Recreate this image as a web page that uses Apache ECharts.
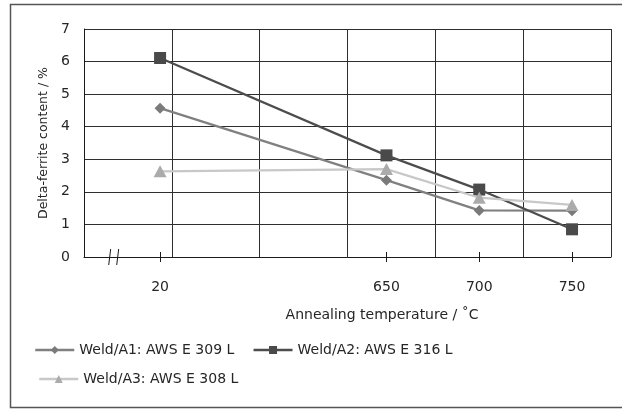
<!DOCTYPE html>
<html><head><meta charset="utf-8">
<script src="https://cdn.jsdelivr.net/npm/echarts@6/dist/echarts.min.js"></script>
<style>html,body{margin:0;padding:0;background:#fff}#c{width:622px;height:409px}</style>
</head><body><div id="c"></div>
<script>
const temperatures = [20, 650, 700, 750];
const weldA1 = [4.57, 2.36, 1.43, 1.42];
const weldA2 = [6.11, 3.12, 2.07, 0.85];
const weldA3 = [2.63, 2.70, 1.82, 1.60];
const seriesNames = ['Weld/A1: AWS E 309 L', 'Weld/A2: AWS E 316 L', 'Weld/A3: AWS E 308 L'];
const yMin = 0, yMax = 7, yStep = 1;
const xAxisTitle = 'Annealing temperature / ˚C';
const yAxisTitle = 'Delta-ferrite content / %';

// Broken temperature axis: values below the break are shifted up next to the upper range
const BREAK_LOW = 600, BREAK_SHIFT = 508, BREAK_MARK = 503;
const X_MIN = 487, X_MAX = 771;
const toAxis = t => t < BREAK_LOW ? t + BREAK_SHIFT : t;
const fromAxis = v => v < BREAK_LOW ? Math.round(v - BREAK_SHIFT) : Math.round(v);

const FONT = '"DejaVu Sans"';
const TXT = '#262626';
const pairs = arr => temperatures.map((t, i) => [toAxis(t), arr[i]]);
const tickVals = temperatures.map(toAxis);

const chart = echarts.init(document.getElementById('c'), null, {renderer: 'canvas'});
const option = {
  animation: false,
  backgroundColor: '#fff',
  textStyle: {fontFamily: FONT},
  grid: {left: 84, right: 11, top: 29, bottom: 152, containLabel: false},
  xAxis: [
    { type: 'value', min: 0, max: 6, interval: 1, position: 'bottom',
      axisLine: {show: false}, axisTick: {show: false}, axisLabel: {show: false},
      splitLine: {show: true, lineStyle: {color: '#2e2e2e', width: 1}} },
    { type: 'value', min: X_MIN, max: X_MAX, position: 'bottom',
      axisLine: {show: true, onZero: false, lineStyle: {color: '#1a1a1a', width: 1}},
      axisTick: {show: true, customValues: tickVals, length: 5, inside: false, lineStyle: {color: '#1a1a1a'}},
      axisLabel: {show: true, customValues: tickVals, formatter: v => String(fromAxis(v)),
        margin: 23, fontSize: 14, color: TXT, fontFamily: FONT},
      splitLine: {show: false} },
    { type: 'value', min: X_MIN, max: X_MAX, position: 'bottom',
      axisLine: {show: false},
      axisTick: {show: true, customValues: tickVals, length: 5, inside: true, lineStyle: {color: '#1a1a1a'}},
      axisLabel: {show: false}, splitLine: {show: false} }
  ],
  yAxis: {
    type: 'value', min: yMin, max: yMax, interval: yStep,
    name: yAxisTitle, nameLocation: 'middle', nameGap: 34,
    nameTextStyle: {fontSize: 12.5, color: TXT, fontFamily: FONT},
    axisLine: {show: true, lineStyle: {color: '#1a1a1a', width: 1}},
    axisTick: {show: false},
    axisLabel: {fontSize: 14, color: TXT, margin: 14, fontFamily: FONT},
    splitLine: {show: true, lineStyle: {color: '#2e2e2e', width: 1}}
  },
  legend: [
    { data: [seriesNames[0], seriesNames[1]], left: 34, top: 343, padding: 0, itemWidth: 39, itemHeight: 10, itemGap: 18,
      lineStyle: {width: 2.5}, textStyle: {fontSize: 14, color: TXT, fontFamily: FONT} },
    { data: [seriesNames[2]], left: 38, top: 372, padding: 0, itemWidth: 39, itemHeight: 10,
      lineStyle: {width: 2.5}, textStyle: {fontSize: 14, color: TXT, fontFamily: FONT} }
  ],
  series: [
    { name: seriesNames[0], type: 'line', xAxisIndex: 1, data: pairs(weldA1),
      symbol: 'diamond', symbolSize: 11, lineStyle: {color: '#808080', width: 2.25},
      itemStyle: {color: '#7a7a7a'}, z: 3 },
    { name: seriesNames[1], type: 'line', xAxisIndex: 1, data: pairs(weldA2),
      symbol: 'rect', symbolSize: 12, lineStyle: {color: '#4d4d4d', width: 2.25},
      itemStyle: {color: '#4a4a4a'}, z: 4 },
    { name: seriesNames[2], type: 'line', xAxisIndex: 1, data: pairs(weldA3),
      symbol: 'triangle', symbolSize: [13, 12], lineStyle: {color: '#c8c8c8', width: 2.25},
      itemStyle: {color: '#ababab'}, z: 5 }
  ]
};
chart.setOption(option);

// decorations: frame, x-axis title and axis break marks
const bx = chart.convertToPixel({xAxisIndex: 1}, BREAK_MARK);
const by = chart.convertToPixel({yAxisIndex: 0}, yMin);
chart.setOption({
  graphic: [
    {type: 'rect', shape: {x: 10.5, y: 4.5, width: 640, height: 403}, style: {fill: 'none', stroke: '#555', lineWidth: 1.5}, silent: true},
    {type: 'text', x: 382, y: 315, style: {text: xAxisTitle, fontSize: 14, fontFamily: FONT, fill: TXT, align: 'center', verticalAlign: 'middle'}},
    {type: 'line', shape: {x1: bx - 5, y1: by + 8, x2: bx - 3, y2: by - 8}, style: {stroke: '#1a1a1a', lineWidth: 1}},
    {type: 'line', shape: {x1: bx + 3, y1: by + 8, x2: bx + 5, y2: by - 8}, style: {stroke: '#1a1a1a', lineWidth: 1}}
  ]
});
</script></body></html>
